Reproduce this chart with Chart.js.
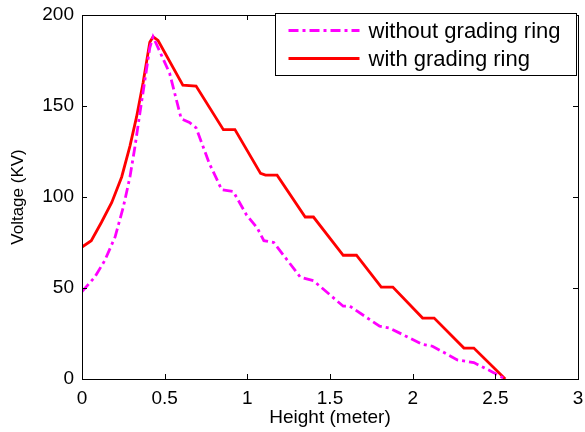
<!DOCTYPE html>
<html>
<head>
<meta charset="utf-8">
<script src="https://cdn.jsdelivr.net/npm/chart.js@4"></script>
<style>
  body { margin: 0; background: #fff; }
</style>
</head>
<body>
<canvas id="chart" width="585" height="432"></canvas>
<script>
// height (m) and voltage (kV)
const heightWithout = [0, 0.077, 0.137, 0.20, 0.25, 0.29, 0.32, 0.35, 0.38, 0.41, 0.43, 0.47, 0.53, 0.60, 0.65, 0.69, 0.77, 0.845, 0.915, 0.996, 1.06, 1.10, 1.16, 1.32, 1.40, 1.58, 1.62, 1.80, 1.86, 2.06, 2.12, 2.27, 2.37, 2.49, 2.56];
const voltWithout = [48, 56, 65, 78, 94.5, 111, 127.5, 146, 164, 182, 188, 180, 168, 143, 141, 138, 118.5, 104, 103, 90, 83, 76, 75, 56, 54, 40, 40, 29, 28, 19, 18, 10.5, 9, 3.5, 0];

const heightWith = [0, 0.056, 0.117, 0.18, 0.24, 0.29, 0.33, 0.37, 0.41, 0.43, 0.46, 0.61, 0.69, 0.855, 0.925, 1.08, 1.11, 1.18, 1.35, 1.40, 1.58, 1.66, 1.81, 1.88, 2.06, 2.13, 2.31, 2.37, 2.56];
const voltWith = [72.5, 76, 86, 97, 111, 128, 144, 163, 185, 188, 186, 161.5, 161, 137, 137, 113, 112, 112, 89, 89, 68, 68, 50.5, 50.5, 33.5, 33.5, 17, 17, 0];

const seriesNames = ["without grading ring", "with grading ring"];

const FONT = "'Liberation Sans', Arial, Helvetica, sans-serif";

function toPoints(xs, ys) {
  return xs.map((x, i) => ({ x: x, y: ys[i] }));
}

// drop the extra room chart.js keeps for half tick labels
function noEdgePadding(s) {
  s.paddingTop = 0;
  s.paddingRight = 0;
  s.paddingBottom = 0;
  s.paddingLeft = 0;
}

// matlab style box, inward ticks and boxed legend
const frame = {
  id: "frame",
  afterDraw(chart) {
    const { ctx, chartArea: a, scales } = chart;
    const x = scales.x;
    const y = scales.y;
    ctx.save();
    ctx.strokeStyle = "#000";
    ctx.lineWidth = 1;
    ctx.beginPath();
    x.ticks.forEach((t) => {
      const px = Math.round(x.getPixelForValue(t.value)) + 0.5;
      ctx.moveTo(px, a.bottom);
      ctx.lineTo(px, a.bottom - 5);
      ctx.moveTo(px, a.top);
      ctx.lineTo(px, a.top + 5);
    });
    y.ticks.forEach((t) => {
      const py = Math.round(y.getPixelForValue(t.value)) + 0.5;
      ctx.moveTo(a.left, py);
      ctx.lineTo(a.left + 5, py);
      ctx.moveTo(a.right, py);
      ctx.lineTo(a.right - 5, py);
    });
    ctx.stroke();
    ctx.strokeRect(Math.round(a.left) + 0.5, Math.round(a.top) + 0.5,
      Math.round(a.right - a.left), Math.round(a.bottom - a.top));

    // legend
    const lx = Math.round(a.right) - 303 + 0.5;
    const ly = Math.round(a.top) - 2 + 0.5;
    ctx.fillStyle = "#fff";
    ctx.fillRect(lx, ly, 301, 62);
    ctx.strokeRect(lx, ly, 301, 62);
    ctx.font = "22px " + FONT;
    ctx.textBaseline = "middle";
    ctx.textAlign = "left";
    chart.data.datasets.forEach((ds, i) => {
      const yy = ly + 17 + i * 28;
      ctx.strokeStyle = ds.borderColor;
      ctx.lineWidth = ds.borderWidth;
      ctx.setLineDash(ds.borderDash || []);
      ctx.beginPath();
      ctx.moveTo(lx + 13, yy);
      ctx.lineTo(lx + 84, yy);
      ctx.stroke();
      ctx.setLineDash([]);
      ctx.fillStyle = "#000";
      ctx.fillText(ds.label, lx + 93, yy + 1);
    });
    ctx.restore();
  },
};

new Chart(document.getElementById("chart"), {
  type: "scatter",
  data: {
    datasets: [
      {
        label: seriesNames[0],
        data: toPoints(heightWithout, voltWithout),
        showLine: true,
        borderColor: "#ff00ff",
        borderWidth: 2.8,
        borderDash: [10, 4, 3, 4],
        pointRadius: 0,
        fill: false,
      },
      {
        label: seriesNames[1],
        data: toPoints(heightWith, voltWith),
        showLine: true,
        borderColor: "#ff0000",
        borderWidth: 2.8,
        pointRadius: 0,
        fill: false,
      },
    ],
  },
  options: {
    responsive: false,
    animation: false,
    layout: { padding: { top: 15, right: 7, left: 0, bottom: 0 } },
    plugins: { legend: { display: false }, tooltip: { enabled: false } },
    scales: {
      x: {
        type: "linear",
        min: 0,
        max: 3,
        ticks: {
          stepSize: 0.5,
          color: "#000",
          padding: 8,
          maxRotation: 0,
          font: { family: FONT, size: 19 },
          callback: (v) => String(v),
        },
        grid: { display: false, drawTicks: false },
        border: { display: false },
        title: {
          display: true,
          text: "Height (meter)",
          color: "#000",
          font: { family: FONT, size: 19 },
          padding: { top: 0, bottom: 3 },
        },
        afterFit: (s) => { s.height = 53; noEdgePadding(s); },
      },
      y: {
        min: 0,
        max: 200,
        ticks: {
          stepSize: 50,
          color: "#000",
          padding: 8,
          font: { family: FONT, size: 19 },
        },
        grid: { display: false, drawTicks: false },
        border: { display: false },
        title: {
          display: true,
          text: "Voltage (KV)",
          color: "#000",
          font: { family: FONT, size: 17 },
          padding: { top: 8, bottom: 0 },
        },
        afterFit: (s) => { s.width = 82; noEdgePadding(s); },
      },
    },
  },
  plugins: [frame],
});
</script>
</body>
</html>
